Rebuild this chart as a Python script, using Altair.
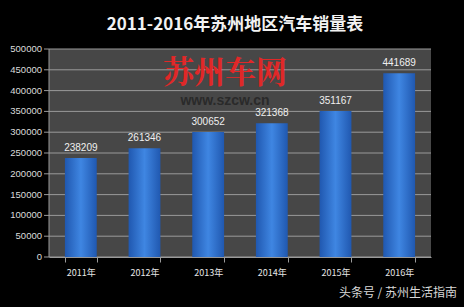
import altair as alt
import pandas as pd

years = ["2011年", "2012年", "2013年", "2014年", "2015年", "2016年"]
sales = [238209, 261346, 300652, 321368, 351167, 441689]
yticks = [0, 50000, 100000, 150000, 200000, 250000, 300000, 350000, 400000, 450000, 500000]
title_text = "2011-2016年苏州地区汽车销量表"

df = pd.DataFrame({"year": years, "sales": sales})
tdf = pd.DataFrame({"tick": yticks, "label": [str(v) for v in yticks]})

GRID = "#9a9a9a"
yscale = alt.Scale(domain=[0, 500000], nice=False)

x_enc = alt.X("year:N", sort=years, title=None,
              scale=alt.Scale(paddingInner=0.5, paddingOuter=0.25),
              axis=alt.Axis(labelAngle=0, labelColor="#e6e6e6", labelFontSize=9,
                            labelPadding=6, domainColor=GRID, tickColor=GRID,
                            tickBand="extent", tickSize=5, labelFont="Noto Sans CJK SC"))
y_enc = alt.Y("sales:Q", title=None, scale=yscale, axis=None)

tb = alt.Chart(tdf)
grid = tb.mark_rule(color=GRID, strokeWidth=1).encode(
    y=alt.Y("tick:Q", scale=yscale, axis=None), x=alt.value(0), x2=alt.value(382))
ticks = tb.mark_rule(color=GRID, strokeWidth=1).encode(
    y=alt.Y("tick:Q", scale=yscale, axis=None), x=alt.value(-5), x2=alt.value(0))
ylabels = tb.mark_text(align="right", baseline="middle", color="#dcdcdc", fontSize=9.5,
                       font="Liberation Sans").encode(
    y=alt.Y("tick:Q", scale=yscale, axis=None), x=alt.value(-7), text="label:N")
ydomain = alt.Chart(pd.DataFrame({"a": [0]})).mark_rule(color=GRID).encode(
    x=alt.value(0), y=alt.value(0), y2=alt.value(208))

base = alt.Chart(df)
bars = base.mark_bar(
    color=alt.Gradient(gradient="linear", x1=0, x2=1, y1=0, y2=0,
                       stops=[alt.GradientStop(offset=0, color="#2058b0"),
                              alt.GradientStop(offset=0.5, color="#3f86e2"),
                              alt.GradientStop(offset=1, color="#2058b0")])
).encode(x=x_enc, y=y_enc)

labels = base.mark_text(dy=-10, color="#f0f0f0", fontSize=10, font="Liberation Sans").encode(
    x=x_enc, y=y_enc, text="sales:Q")

title = alt.Chart(pd.DataFrame({"t": [title_text]})).mark_text(
    color="#f2f2f2", fontSize=17, fontWeight="bold", font="Noto Sans CJK SC"
).encode(x=alt.value(186), y=alt.value(-24), text="t:N")

logo = alt.Chart(pd.DataFrame({"t": ["苏州车网"]})).mark_text(
    color="#e02828", fontSize=31, fontWeight="bold", font="Noto Serif CJK SC"
).encode(x=alt.value(176), y=alt.value(25), text="t:N")

logo2 = alt.Chart(pd.DataFrame({"t": ["www.szcw.cn"]})).mark_text(
    color="#2a2a2a", fontSize=14, fontWeight="bold", font="Liberation Sans"
).encode(x=alt.value(176), y=alt.value(52), text="t:N")

mark = alt.Chart(pd.DataFrame({"t": ["头条号 / 苏州生活指南"]})).mark_text(
    color="#d8d8d8", fontSize=12, align="right", font="Noto Sans CJK SC"
).encode(x=alt.value(408), y=alt.value(244), text="t:N")

chart = alt.layer(grid, ticks, ylabels, ydomain, bars, labels, logo, logo2, title, mark).properties(
    width=382, height=208,
    background="black",
    autosize=alt.AutoSizeParams(type="none"),
    padding={"left": 49, "top": 49, "right": 33, "bottom": 50},
).configure_view(fill="#474747", stroke=None)

chart.save("out.html", embed_options={"renderer": "svg", "actions": False})
